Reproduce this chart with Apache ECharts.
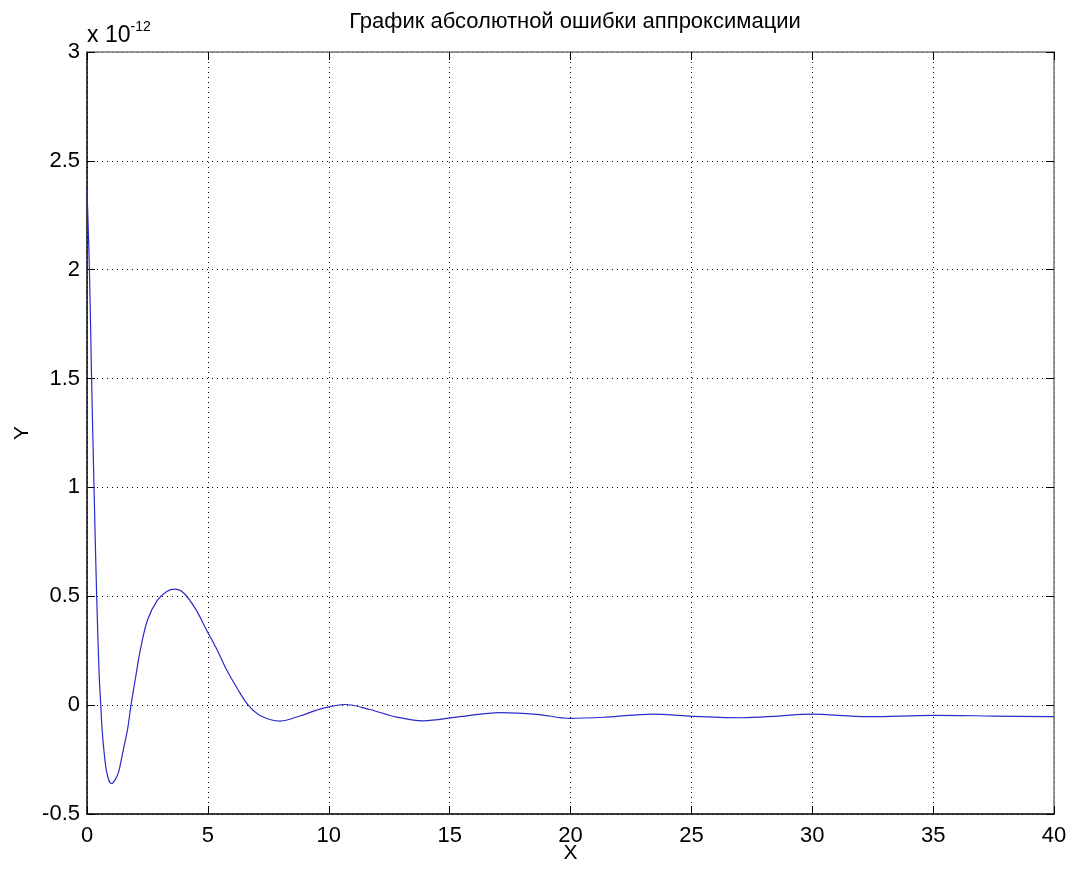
<!DOCTYPE html>
<html>
<head>
<meta charset="utf-8">
<script src="https://cdn.jsdelivr.net/npm/echarts@6/dist/echarts.min.js"></script>
<style>html,body{margin:0;padding:0;background:#fff}#c{width:1074px;height:870px}</style>
</head>
<body>
<div id="c"></div>
<script>
const titleText = 'График абсолютной ошибки аппроксимации';
const xValues = [0, 0.1, 0.19, 0.29, 0.4, 0.5, 0.57, 0.63, 0.72, 0.8, 0.92, 1.02, 1.15, 1.3, 1.42, 1.53, 1.68, 1.82, 2.0, 2.2, 2.5, 2.9, 3.3, 3.64, 4.0, 4.5, 4.95, 5.4, 5.78, 6.2, 6.67, 7.2, 7.98, 8.8, 9.64, 10.67, 11.7, 12.8, 13.9, 15.3, 17.1, 18.6, 20.0, 21.5, 23.4, 24.9, 27.1, 28.6, 29.9, 32.3, 35.0, 37.5, 40.0];
const yValues = [2.37, 2.0, 1.5, 1.0, 0.5, 0.15, 0.0, -0.12, -0.23, -0.3, -0.35, -0.36, -0.345, -0.31, -0.25, -0.19, -0.11, 0.0, 0.12, 0.25, 0.39, 0.48, 0.522, 0.533, 0.515, 0.44, 0.344, 0.25, 0.161, 0.08, 0.0, -0.05, -0.073, -0.05, -0.018, 0.003, -0.02, -0.055, -0.072, -0.055, -0.034, -0.042, -0.061, -0.055, -0.041, -0.05, -0.058, -0.05, -0.041, -0.053, -0.047, -0.05, -0.053];
const xTicks = [0, 5, 10, 15, 20, 25, 30, 35, 40];
const yTicks = [-0.5, 0, 0.5, 1, 1.5, 2, 2.5, 3];
const exponentLabel = '-12';

const data = xValues.map((x, i) => [x, yValues[i]]);
const chart = echarts.init(document.getElementById('c'));
const font = 'Liberation Sans, Arial, sans-serif';
const grid = {left: 87, right: 20, top: 52, bottom: 56, containLabel: false, outerBoundsMode: 'none'};
const tickStyle = {show: true, inside: true, length: 8, lineStyle: {color: '#000', width: 1}};
chart.setOption({
  backgroundColor: '#fff',
  animation: false,
  title: {
    text: titleText, left: 570, top: 6, textAlign: 'center',
    textStyle: {fontFamily: font, fontSize: 22, fontWeight: 'normal', color: '#000'}
  },
  graphic: [{
    type: 'text', left: 87, top: 20,
    style: {
      text: '{a|x 10}{b|' + exponentLabel + '}',
      rich: {
        a: {fontFamily: font, fontSize: 23, fill: '#000', verticalAlign: 'bottom'},
        b: {fontFamily: font, fontSize: 14, fill: '#000', verticalAlign: 'top', padding: [0, 0, 13, 0]}
      }
    }
  }],
  grid: grid,
  xAxis: [{
    type: 'value', min: 0, max: 40, interval: 5,
    name: 'X', nameLocation: 'middle', nameGap: 29, nameMoveOverlap: false,
    nameTextStyle: {fontFamily: font, fontSize: 21, color: '#000'},
    axisLine: {show: true, onZero: false, lineStyle: {color: '#000', width: 1.5}},
    axisTick: tickStyle,
    axisLabel: {fontFamily: font, fontSize: 22, color: '#000', margin: 11,
      formatter: v => xTicks.includes(v) ? String(v) : ''},
    splitLine: {show: true, lineStyle: {color: '#000', type: [1, 4], width: 1}}
  }, {
    type: 'value', min: 0, max: 40, interval: 5, position: 'top',
    axisLine: {show: true, onZero: false, lineStyle: {color: '#777', width: 1.5}},
    axisTick: tickStyle, axisLabel: {show: false}, splitLine: {show: false}
  }],
  yAxis: [{
    type: 'value', min: -0.5, max: 3, interval: 0.5,
    name: 'Y', nameLocation: 'middle', nameGap: 54, nameRotate: 90, nameMoveOverlap: false,
    nameTextStyle: {fontFamily: font, fontSize: 21, color: '#000'},
    axisLine: {show: true, onZero: false, lineStyle: {color: '#000', width: 1.5}},
    axisTick: tickStyle,
    axisLabel: {fontFamily: font, fontSize: 22, color: '#000', margin: 7,
      formatter: v => { const t = yTicks.find(k => Math.abs(k - v) < 1e-9); return t === undefined ? '' : String(t); }},
    splitLine: {show: true, lineStyle: {color: '#000', type: [1, 4], width: 1}}
  }, {
    type: 'value', min: -0.5, max: 3, interval: 0.5, position: 'right',
    axisLine: {show: true, onZero: false, lineStyle: {color: '#777', width: 1.5}},
    axisTick: tickStyle, axisLabel: {show: false}, splitLine: {show: false}
  }],
  series: [{
    type: 'line', data: data, smooth: 0.35, showSymbol: false, symbol: 'none',
    lineStyle: {color: '#2a2ac8', width: 1.2}, xAxisIndex: 0, yAxisIndex: 0
  }]
});
</script>
</body>
</html>
